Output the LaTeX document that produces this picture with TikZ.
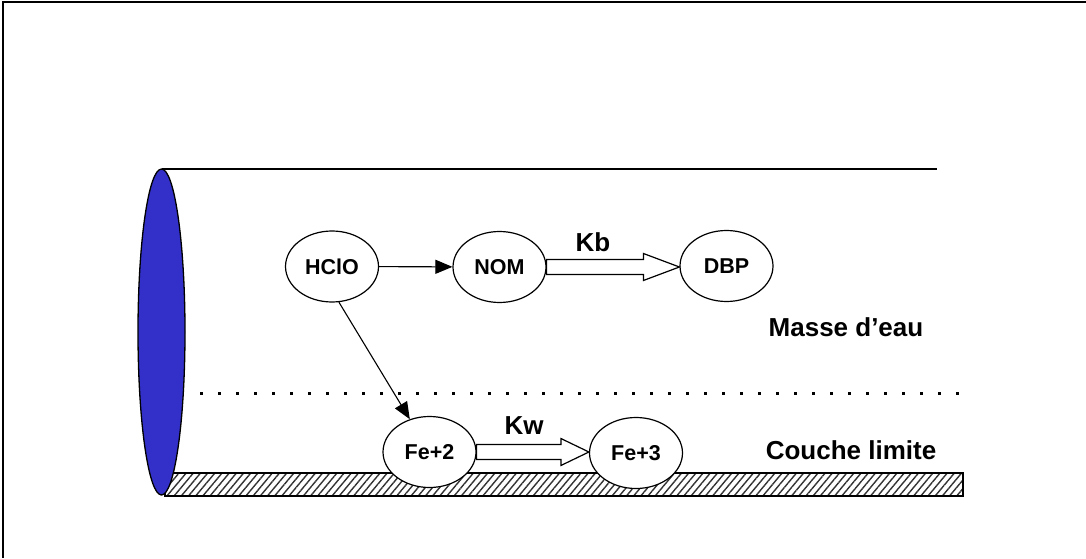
\documentclass[tikz,border=0pt]{standalone}
\usepackage{fontspec}
\setmainfont{Liberation Sans}
\usetikzlibrary{shapes.geometric,arrows.meta,patterns.meta,calc}
\definecolor{pipeblue}{RGB}{50,48,200}

\begin{document}
\begin{tikzpicture}[
    x=1pt, y=1pt,
    species/.style={ellipse, draw, line width=1.2pt, fill=white, minimum width=93pt, minimum height=71pt, inner sep=0pt, font=\fontsize{21.5}{21.5}\selectfont\bfseries},
    zone/.style={font=\fontsize{26}{26}\selectfont\bfseries},
    thin arrow/.style={draw, line width=1.1pt, -{Triangle[length=17pt,width=14pt]}},
    rate/.style={draw, line width=1.2pt, fill=white}
]
\useasboundingbox (0,0) rectangle (1086,558);
\draw[line width=1.5pt] (3,0) -- (3,556) -- (1086,556);

% pipe
\draw[line width=1.3pt] (161.5,389) -- (937,389);
\draw[pattern={Lines[angle=50,distance=5.5pt,line width=1.4pt]}, pattern color=black!80, line width=1.2pt] (165,62) rectangle (963,85);
\draw[line width=3pt, dash pattern=on 3pt off 15pt] (200,165) -- (960,165);
\draw[line width=1.3pt, fill=pipeblue] (161.5,226) ellipse [x radius=23.5pt, y radius=163pt];

\node[species] (HClO) at (332,291.5) {HClO};
\node[species] (NOM) at (499.5,291) {NOM};
\node[species] (DBP) at (726.5,292) {DBP};
\node[species] (Fe2) at (429.5,106) {Fe+2};
\node[species] (Fe3) at (636,105) {Fe+3};

\node[zone] (kb) at (593,316) {Kb};
\node[zone] (kw) at (524,132) {Kw};
\node[zone] (masse) at (846,231) {Masse d’eau};
\node[zone] (couche) at (851,108) {Couche limite};

\draw[thin arrow] (HClO) -- (NOM);
\draw[thin arrow] (HClO.-79) -- (Fe2.121);

% rate arrows
\draw[rate] let \p1=(NOM.east), \p2=(DBP.west) in
    (\x1,\y1+7.5pt) -- (\x2-36pt,\y1+7.5pt) -- (\x2-36pt,\y1+13.5pt) -- (\x2,\y1)
    -- (\x2-36pt,\y1-13.5pt) -- (\x2-36pt,\y1-7.5pt) -- (\x1,\y1-7.5pt) -- cycle;
\draw[rate] let \p1=(Fe2.east), \p2=(Fe3.west) in
    (\x1,\y1+7.5pt) -- (\x2-28pt,\y1+7.5pt) -- (\x2-28pt,\y1+13.5pt) -- (\x2,\y1)
    -- (\x2-28pt,\y1-13.5pt) -- (\x2-28pt,\y1-7.5pt) -- (\x1,\y1-7.5pt) -- cycle;
\end{tikzpicture}
\end{document}
